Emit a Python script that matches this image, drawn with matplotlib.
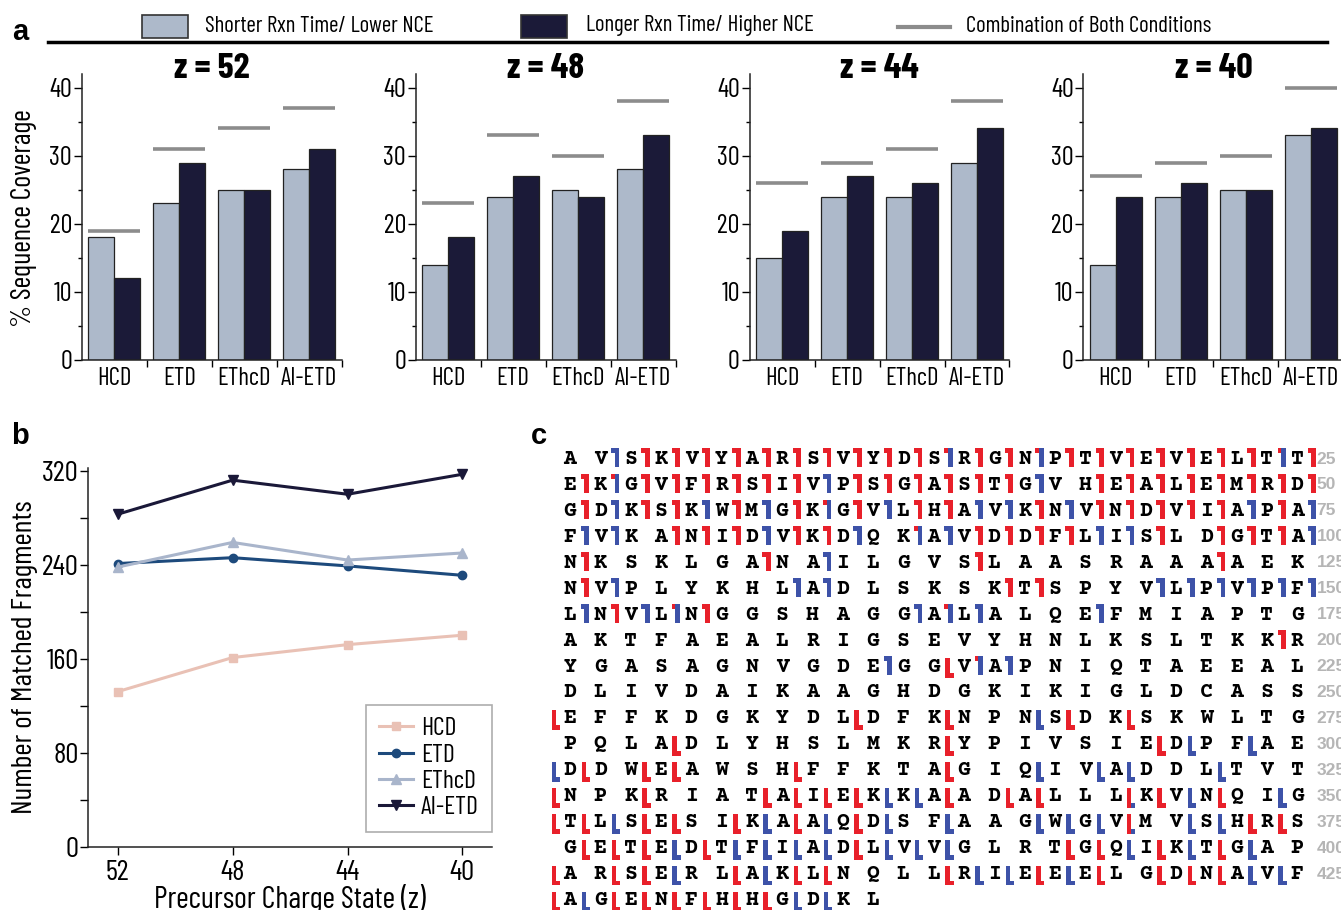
import matplotlib
matplotlib.use("Agg")
import matplotlib.pyplot as plt
import numpy as np
from matplotlib.patches import Rectangle
from matplotlib.lines import Line2D
from matplotlib.ticker import MultipleLocator, FixedLocator

plt.rcParams['font.family'] = ['Barlow Condensed', 'Roboto Condensed', 'DejaVu Sans']
MONO = ['Courier Prime', 'Liberation Mono', 'DejaVu Sans Mono']
PLAIN = ['Liberation Sans', 'DejaVu Sans']

W, H = 1341, 910

# ---- panel a data ----
methods = ["HCD", "ETD", "EThcD", "AI-ETD"]
charges = ["52", "48", "44", "40"]
short_cov = [[18, 23, 25, 28], [14, 24, 25, 28], [15, 24, 24, 29], [14, 24, 25, 33]]
long_cov = [[12, 29, 25, 31], [18, 27, 24, 33], [19, 27, 26, 34], [24, 26, 25, 34]]
combined_cov = [[19, 31, 34, 37], [23, 33, 30, 38], [26, 29, 31, 38], [27, 29, 30, 40]]

# ---- panel b data ----
charge_ticks = ["52", "48", "44", "40"]
frag_hcd = [132, 161, 172, 180]
frag_etd = [241, 246, 239, 231]
frag_ethcd = [238, 259, 244, 250]
frag_aietd = [283, 312, 300, 317]

# ---- panel c data ----
seq_rows = [
    "AVSKVYARSVYDSRGNPTVEVELTT", "EKGVFRSIVPSGASTGVHEALEMRD",
    "GDKSKWMGKGVLHAVKNVNDVIAPA", "FVKANIDVKDQKAVDDFLISLDGTA",
    "NKSKLGANAILGVSLAASRAAAAEK", "NVPLYKHLADLSKSKTSPYVLPVPF",
    "LNVLNGGSHAGGALALQEFMIAPTG", "AKTFAEALRIGSEVYHNLKSLTKKR",
    "YGASAGNVGDEGGVAPNIQTAEEAL", "DLIVDAIKAAGHDGKIKIGLDCASS",
    "EFFKDGKYDLDFKNPNSDKSKWLTG", "PQLADLYHSLMKRYPIVSIEDPFAE",
    "DDWEAWSHFFKTAGIQIVADDLTVT", "NPKRIATAIEKKAADALLLKVNQIG",
    "TLSESIKAAQDSFAAGWGVMVSHRS", "GETEDTFIADLVVGLRTGQIKTGAP",
    "ARSERLAKLNQLLRIEEELGDNAVF", "AGENFHHGDKL",
]
# cleavage marks per gap (0..25); lowercase = N-terminal flag, uppercase = C-terminal
# r/R red, b/B blue, m/M both
mark_rows = [
    "..brrrrrrrrrrmrrmrrrrrrrmr", ".rmrrrrrrbrrrrrrb.rrrrrrrr",
    ".rbrrbrbrmrbrrbbrbrrrrrbrb", ".bb.rrrbrrb.mbrrrrbbr.rrrb",
    ".r.....r.b....r.......r...", ".rb.....bb.....rr...bbbbbb",
    ".brbmr......bmb...b.......", "........................r.",
    "...........b.Rmb..........", "..........................",
    "R.........R..R..BR.R......", "....R........R......RB.B..",
    "BR.RR...R....R..B.BB..B...", "R..R...RRRRBBR.RR..MRBR.B.",
    "RRBRR.RBRBRB.B..BBBM.BBRR.", ".RRRBRBBBBRBBB...RRBRBRB..",
    "R.RRB.RBRR...RBBRBR.RRRBB.", "RBRRRRRRBB.",
]

LIGHT = "#adb9ca"
DARK = "#1b1a38"
COMB = "#8c8c8c"
RED = "#e8202a"
BLUE = "#3d52a8"


def fx(px):
    return px / W


def fy(py):
    return 1 - py / H


fig = plt.figure(figsize=(W / 100, H / 100), dpi=100)

# panel letters
for lab, px, py in [("a", 20, 32), ("b", 20, 436), ("c", 539, 436)]:
    fig.text(fx(px), fy(py), lab, fontsize=21, weight='bold', ha='center', va='center',
             family=PLAIN)

# top legend
fig.add_artist(Rectangle((fx(142), fy(38)), fx(46), 23 / H, transform=fig.transFigure,
                         facecolor=LIGHT, edgecolor='#333333', lw=1.2))
fig.text(fx(205), fy(26), "Shorter Rxn Time/ Lower NCE", fontsize=16.5, va='center')
fig.add_artist(Rectangle((fx(521), fy(38)), fx(46), 23 / H, transform=fig.transFigure,
                         facecolor=DARK, edgecolor='#333333', lw=1.2))
fig.text(fx(586), fy(26), "Longer Rxn Time/ Higher NCE", fontsize=16.5, va='center')
fig.add_artist(Line2D([fx(898), fx(950)], [fy(27), fy(27)], transform=fig.transFigure,
                      color=COMB, lw=3))
fig.text(fx(966), fy(26), "Combination of Both Conditions", fontsize=16.5, va='center')
fig.add_artist(Line2D([fx(48), fx(1327)], [fy(42), fy(42)], transform=fig.transFigure,
                      color='black', lw=2.5))

# ---- panel a ----
x = np.arange(len(methods))
for i, z in enumerate(charges):
    ax = fig.add_axes([fx(81.7 + 333.9 * i), fy(360), fx(260), 286 / H])
    ax.bar(x - 0.2, short_cov[i], 0.4, color=LIGHT, edgecolor='#222222', lw=0.9)
    ax.bar(x + 0.2, long_cov[i], 0.4, color=DARK, edgecolor='#222222', lw=0.9)
    ax.hlines(combined_cov[i], x - 0.4, x + 0.4, color=COMB, lw=2.6)
    ax.set_xlim(-0.5, 3.5)
    ax.set_ylim(0, 42)
    ax.set_xticks(x)
    ax.set_xticklabels(methods, fontsize=18)
    ax.xaxis.set_minor_locator(FixedLocator([0.5, 1.5, 2.5, 3.5]))
    ax.tick_params(axis='x', which='major', length=0, pad=5)
    ax.tick_params(axis='x', which='minor', length=5, width=1)
    ax.set_yticks([0, 10, 20, 30, 40])
    ax.yaxis.set_minor_locator(MultipleLocator(5))
    ax.tick_params(axis='y', which='major', length=6, width=1, labelsize=19, pad=1)
    ax.tick_params(axis='y', which='minor', length=3, width=1)
    for s in ['top', 'right']:
        ax.spines[s].set_visible(False)
    for s in ['left', 'bottom']:
        ax.spines[s].set_linewidth(1.1)
        ax.spines[s].set_color('#222222')
    ax.text(0.5, (360 - 69) / 286, f"z = {z}", transform=ax.transAxes, ha='center',
            va='center', fontsize=26, weight='bold')

fig.text(fx(24), fy(218), "% Sequence Coverage", rotation=90, fontsize=20.5,
         ha='center', va='center')

# ---- panel b ----
axb = fig.add_axes([fx(88.3), fy(846.7), fx(403.4), (846.7 - 468.4) / H])
xb = np.arange(len(charge_ticks))
axb.plot(xb, frag_hcd, color="#e9c1b5", marker='s', ms=6, lw=2.2, label="HCD")
axb.plot(xb, frag_etd, color="#1d4a7c", marker='o', ms=6, lw=2.2, label="ETD")
axb.plot(xb, frag_ethcd, color="#a9b5cb", marker='^', ms=7, lw=2.2, label="EThcD")
axb.plot(xb, frag_aietd, color="#1a1838", marker='v', ms=7, lw=2.2, label="AI-ETD")
axb.set_xlim(-0.256, 3.255)
axb.set_ylim(0, 322)
axb.set_xticks(xb)
axb.set_xticklabels(charge_ticks)
axb.set_yticks([0, 80, 160, 240, 320])
axb.yaxis.set_minor_locator(MultipleLocator(40))
axb.tick_params(axis='both', which='major', length=6, width=1, labelsize=21)
axb.tick_params(axis='y', which='minor', length=6, width=1)
axb.tick_params(axis='y', pad=1)
for s in ['top', 'right']:
    axb.spines[s].set_visible(False)
for s in ['left', 'bottom']:
    axb.spines[s].set_linewidth(1.1)
    axb.spines[s].set_color('#222222')
fig.text(fx(290), fy(899), "Precursor Charge State (z)", fontsize=22, ha='center', va='center')
fig.text(fx(25), fy(657), "Number of Matched Fragments", rotation=90, fontsize=21.5,
         ha='center', va='center')
leg = axb.legend(loc='lower right', bbox_to_anchor=(1.0, 0.04), borderaxespad=0,
                 fontsize=18.5, handlelength=1.35, handletextpad=0.3, labelspacing=0.12,
                 fancybox=False, edgecolor='#999999', borderpad=0.5)
leg.get_frame().set_linewidth(1.2)

# ---- panel c ----
COL0, COLW = 570, 30.3
ROW0, ROWH = 459, 25.94
left_px, right_px, top_px, bot_px = 552, 1341, 440, 910
axc = fig.add_axes([fx(left_px), fy(bot_px), fx(right_px - left_px), (bot_px - top_px) / H])
axc.set_xlim((left_px - COL0) / COLW, (right_px - COL0) / COLW)
axc.set_ylim((bot_px - ROW0) / ROWH, (top_px - ROW0) / ROWH)
axc.axis('off')


def draw_mark(ax, g, r, code):
    xg = g - 0.5
    kind = code.lower()
    if kind == 'r':
        bar_c, flag_c = RED, RED
    elif kind == 'b':
        bar_c, flag_c = BLUE, BLUE
    else:
        bar_c, flag_c = (BLUE, RED) if code.islower() else (RED, BLUE)
    if code.islower():
        ax.add_patch(Rectangle((xg - 0.03, r - 0.42), 0.16, 0.74, color=bar_c, lw=0))
        ax.add_patch(Rectangle((xg - 0.15, r - 0.42), 0.13, 0.2, color=flag_c, lw=0))
    else:
        ax.add_patch(Rectangle((xg - 0.12, r - 0.32), 0.15, 0.76, color=bar_c, lw=0))
        ax.add_patch(Rectangle((xg + 0.02, r + 0.26), 0.14, 0.18, color=flag_c, lw=0))


for r, (res, marks) in enumerate(zip(seq_rows, mark_rows)):
    for c, ch in enumerate(res):
        axc.text(c, r, ch, ha='center', va='center', fontsize=15.5, weight='bold',
                 family=MONO)
    for g, code in enumerate(marks):
        if code != '.':
            draw_mark(axc, g, r, code)
    if len(res) == 25:
        axc.text(24.64, r, str(25 * (r + 1)), ha='left', va='center', fontsize=12.5,
                 weight='bold', color='#b5b5b5', family=PLAIN)

fig.savefig("out.png", dpi=100)
